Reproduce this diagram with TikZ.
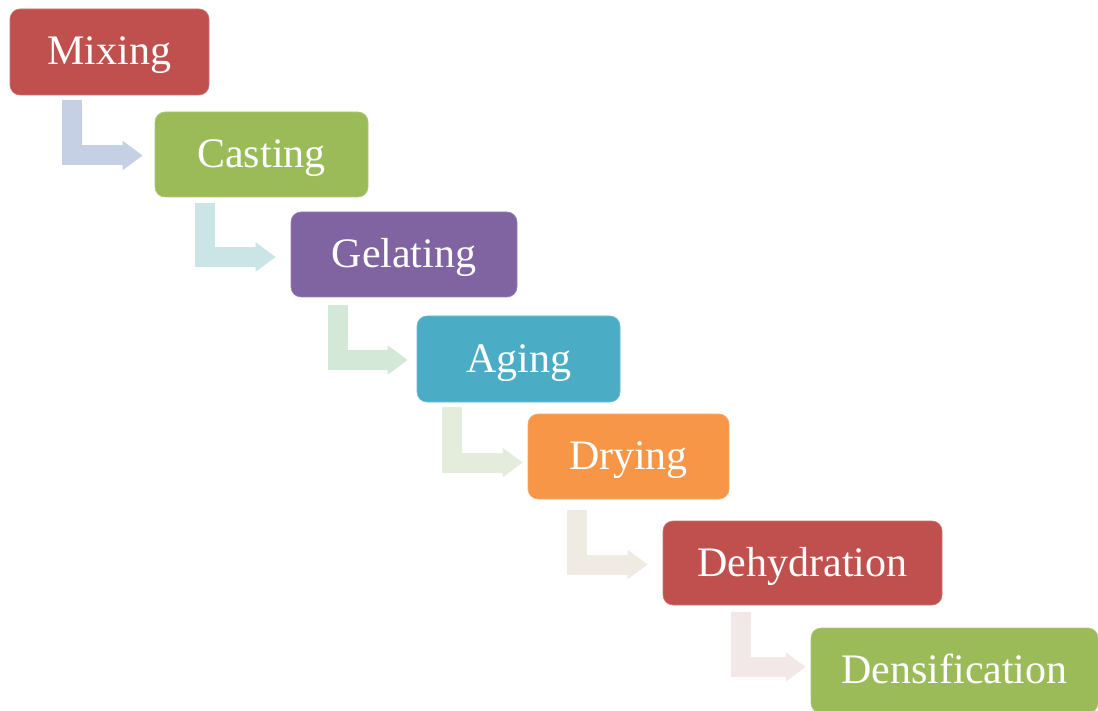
\documentclass[tikz,border=0pt]{standalone}
\usepackage{fontspec}
\setmainfont{Liberation Serif}
\usetikzlibrary{arrows.meta,calc}

\definecolor{cRed}{HTML}{C0504D}
\definecolor{cGreen}{HTML}{9BBB59}
\definecolor{cPurple}{HTML}{8064A2}
\definecolor{cTeal}{HTML}{4BACC6}
\definecolor{cOrange}{HTML}{F79646}
\definecolor{aOne}{RGB}{197,208,228}
\definecolor{aTwo}{RGB}{203,229,230}
\definecolor{aThree}{RGB}{211,232,214}
\definecolor{aFour}{RGB}{228,236,219}
\definecolor{aFive}{RGB}{239,235,226}
\definecolor{aSix}{RGB}{243,232,232}

\tikzset{
  stage/.style={rectangle, rounded corners=10pt, fill=#1, draw=#1!80!white,
    line width=0.6pt, inner sep=0pt, text=white,
    font=\fontsize{42}{42}\selectfont, text height=26pt, text depth=0pt},
  bend/.style={draw=#1, line width=20pt, line join=miter, line cap=butt,
    -{Triangle[width=28pt,length=20pt]}}
}

\begin{document}
\begin{tikzpicture}[x=1pt,y=-1pt]
  \path[use as bounding box] (0,0) rectangle (1098,711);
  \clip (0,0) rectangle (1098,711);
  \fill[white] (0,0) rectangle (1098,711);

  % process stages
  \node[stage=cRed,    minimum width=199pt, minimum height=86pt] (mix)  at (109.5,52)  {Mixing};
  \node[stage=cGreen,  minimum width=213pt, minimum height=85pt] (cast) at (261.5,154.5) {Casting};
  \node[stage=cPurple, minimum width=226pt, minimum height=85pt] (gel)  at (404,254.5) {Gelating};
  \node[stage=cTeal,   minimum width=203pt, minimum height=86pt] (age)  at (518.5,359) {Aging};
  \node[stage=cOrange, minimum width=201pt, minimum height=85pt] (dry)  at (628.5,456.5) {Drying};
  \node[stage=cRed,    minimum width=279pt, minimum height=84pt] (dehy) at (802.5,563) {Dehydration};
  \node[stage=cGreen,  minimum width=287pt, minimum height=85pt] (dens) at (954.5,670.5) {Densification};

  % bent arrows between consecutive stages
  \draw[bend=aOne]   ($(mix.south west)+(62.5,5)$)  |- ($(cast.west)+(-12,1)$);
  \draw[bend=aTwo]   ($(cast.south west)+(50,6)$)   |- ($(gel.west)+(-15,2.5)$);
  \draw[bend=aThree] ($(gel.south west)+(47,8)$)    |- ($(age.west)+(-9,1)$);
  \draw[bend=aFour]  ($(age.south west)+(35,5)$)    |- ($(dry.west)+(-5,6)$);
  \draw[bend=aFive]  ($(dry.south west)+(49,11)$)   |- ($(dehy.west)+(-15,1.5)$);
  \draw[bend=aSix]   ($(dehy.south west)+(78.5,7)$) |- ($(dens.west)+(-5,-3.5)$);
\end{tikzpicture}
\end{document}
